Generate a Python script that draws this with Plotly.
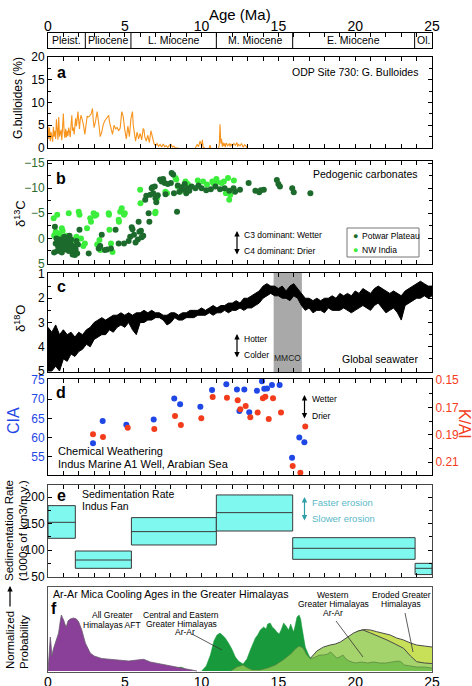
import plotly.graph_objects as go

# ---------------- DATA ----------------
epoch_names = ["Pleist.", "Pliocene", "L. Miocene", "M. Miocene", "E. Miocene", "Ol."]
epoch_start = [0.0, 2.43, 5.40, 10.96, 15.93, 23.87]
epoch_end = [2.43, 5.40, 10.96, 15.93, 23.87, 25.0]

# (a) G. bulloides (%)
bul_age = [0.0, 0.05, 0.1, 0.15, 0.2, 0.25, 0.3, 0.35, 0.4, 0.45, 0.5, 0.55, 0.6, 0.65, 0.7, 0.75, 0.8, 0.85,
           0.9, 0.95, 1.0, 1.05, 1.1, 1.15, 1.2, 1.25, 1.3, 1.35, 1.4, 1.45, 1.5, 1.55, 1.6, 1.65, 1.7, 1.75,
           1.8, 1.85, 1.9, 1.95, 2.0, 2.05, 2.1, 2.15, 2.2, 2.3, 2.4, 2.5, 2.55, 2.6, 2.7, 2.8, 2.9, 2.95,
           3.0, 3.1, 3.2, 3.3, 3.4, 3.5, 3.6, 3.7, 3.8, 3.9, 3.95, 4.0, 4.1, 4.2, 4.3, 4.4, 4.5, 4.6, 4.7,
           4.8, 4.85, 4.9, 5.0, 5.1, 5.2, 5.3, 5.4, 5.5, 5.55, 5.6, 5.7, 5.8, 5.9, 6.0, 6.1, 6.2, 6.25, 6.3,
           6.4, 6.5, 6.6, 6.7, 6.8, 6.9, 7.0, 7.1, 7.2, 7.3, 7.4, 7.5, 7.6, 7.7, 7.8, 7.9, 8.0, 8.1, 8.2,
           8.3, 8.5, None,
           9.6, 9.7, 9.8, 9.9, 10.0, 10.05, 10.1, 10.2, None,
           10.5, 10.55, 10.6, None,
           11.1, 11.15, 11.2, 11.25, 11.3, 11.35, 11.4, 11.45, 11.5, 11.55, 11.6, 11.7, 11.8, 11.85, 11.9,
           12.0, 12.1, 12.2, 12.3, 12.35, 12.4, 12.5, 12.6, 12.7, 12.8, 12.9, 12.95]
bul_pct = [4.8, 2.0, 4.5, 1.5, 3.5, 2.8, 1.4, 4.6, 2.5, 3.8, 2.0, 6.3, 3.0, 1.8, 6.8, 2.5, 3.2, 4.0,
           1.7, 5.5, 7.6, 3.5, 2.2, 4.2, 2.4, 3.8, 2.6, 4.5, 3.2, 2.4, 5.0, 7.2, 3.8, 4.5, 3.0, 5.5,
           6.5, 4.8, 7.0, 8.0, 6.0, 4.2, 6.3, 7.2, 6.6, 5.2, 3.0, 5.8, 7.0, 6.8, 7.0, 7.4, 8.7, 6.0,
           4.5, 6.0, 8.0, 5.5, 2.5, 3.5, 5.2, 6.0, 6.6, 7.0, 7.2, 5.8, 4.2, 3.0, 5.0, 4.2, 4.5, 3.8, 4.4,
           8.0, 7.5, 6.8, 4.0, 2.0, 4.8, 2.5, 6.5, 8.0, 5.0, 3.5, 1.5, 3.5, 2.0, 3.2, 1.8, 4.3, 4.0, 2.5,
           1.5, 2.8, 1.2, 3.8, 2.5, 1.0, 0.5, 1.0, 0.4, 0.8, 0.2, 0.9, 0.3, 0.5, 0.1, 0.6, 0.8, 0.2, 0.4,
           0.0, 0.0, None,
           0.0, 0.8, 0.3, 1.5, 0.5, 1.8, 0.2, 0.0, None,
           0.0, 0.6, 0.0, None,
           0.0, 0.5, 5.2, 1.0, 2.0, 0.3, 1.2, 0.4, 1.0, 0.2, 1.1, 0.5, 1.0, 0.3, 0.9,
           0.4, 1.0, 0.6, 1.2, 0.3, 0.8, 0.5, 1.0, 0.2, 0.7, 0.4, 0.0]

# (b) pedogenic carbonate d13C
pot_age = [0.40, 0.45, 0.50, 0.55, 0.60, 0.65, 0.70, 0.75, 0.80, 0.85, 0.90, 0.95, 1.00, 1.05, 1.10, 1.15,
           1.20, 1.25, 1.30, 1.35, 1.40, 1.45, 1.50, 1.55, 1.60, 1.65, 1.70, 1.75, 1.80, 1.85, 1.90, 1.95,
           2.05, 2.65, 3.30, 3.40, 3.50, 3.70, 3.85, 4.10, 4.40, 4.60, 4.95, 5.25, 5.35, 5.45, 5.50, 5.60,
           5.70, 5.85, 5.90, 5.95, 6.05, 6.10, 6.20, 6.33, 6.40, 6.55, 6.60, 6.66, 6.75, 6.80, 6.85, 6.95,
           7.00, 7.05, 7.15, 7.30, 7.40, 7.50, 7.60, 7.65, 7.80, 8.00, 8.05, 8.15, 8.20, 8.40, 8.45, 8.55,
           8.70, 8.80, 8.90, 9.00, 9.10, 9.20, 9.35, 9.60, 9.80, 10.00, 10.30, 10.60, 10.90, 11.20, 11.50,
           11.80, 12.08, 12.18, 12.50, 13.06, 13.50, 13.75, 13.85, 14.05, 14.90, 15.00, 15.10, 15.90, 16.00,
           17.08]
pot_d13c = [2.8, -2.3, 1.0, 0.0, 2.5, 1.5, 0.8, 2.0, 0.2, 1.2, 2.8, 1.8, 0.5, -0.3, 1.0, 2.2,
            0.3, 1.5, 0.8, 2.5, -0.5, 1.0, 0.2, 2.0, 3.2, 1.5, 2.7, 3.3, 2.2, 0.5, 3.0, 1.2,
            -1.7, 3.0, 2.0, 1.5, -0.7, 2.3, 2.2, 2.0, -1.7, 1.0, 1.0, 0.5, -0.3, -2.2, -1.8, -0.7,
            0.8, 0.2, -3.3, -1.3, -1.5, -0.2, -0.5, -7.7, -8.5, -5.0, -3.3, -8.7, -10.0, -10.2, -9.0, -10.3,
            -8.0, -7.2, -8.6, -11.7, -11.3, -11.8, -11.0, -8.8, -10.8, -11.0, -13.0, -12.7, -9.0, -5.3, -10.5, -9.3,
            -10.2, -9.7, -10.8, -9.0, -10.0, -9.5, -10.3, -10.0, -10.5, -10.0, -9.6, -9.8, -10.3, -9.8, -10.0,
            -9.5, -10.0, -9.3, -9.7, -11.0, -9.5, -9.2, -9.6, -9.7, -11.6, -10.8, -10.3, -10.0, -9.2,
            -9.0]
nw_age = [0.37, 0.40, 0.45, 0.50, 0.60, 0.65, 0.75, 0.80, 0.90, 0.95, 1.00, 1.10, 1.20, 1.35, 1.45, 1.55,
          1.67, 1.75, 1.85, 2.00, 2.05, 2.15, 2.30, 2.40, 2.54, 2.75, 2.80, 2.97, 3.05, 3.15, 3.20, 3.35,
          3.40, 3.95, 3.97, 4.00, 4.10, 4.20, 4.60, 4.62, 4.70, 4.80, 4.95, 5.00, 6.00, 6.02, 6.98, 7.00,
          7.10, 7.64, 7.75, 8.30, 8.35, 8.45, 8.60, 8.95, 9.10, 9.75, 10.10, 10.35, 10.70, 10.75, 10.96,
          11.00, 11.30, 11.45, 11.58, 11.72, 11.80, 11.87, 12.10]
nw_d13c = [-4.0, -0.5, -0.7, -1.3, -4.7, -1.0, -0.7, 1.5, -2.0, -1.5, 0.3, 2.0, -0.5, -5.0, 0.5, 2.3,
           0.3, 1.8, -0.3, -5.3, -4.7, 0.0, 1.5, 1.0, -2.0, -4.0, -3.3, -5.0, -4.5, -4.7, 1.2, 0.3,
           2.3, -5.0, -4.7, -1.7, 1.0, 2.7, -3.7, -3.3, -5.3, -6.0, -4.7, -5.0, -9.7, -7.0, -5.0, -5.3,
           -8.0, -9.3, -9.0, -12.0, -11.7, -10.3, -9.3, -11.3, -10.8, -11.5, -11.3, -10.7, -11.3, -11.0, -11.8,
           -11.2, -11.0, -11.3, -9.0, -12.0, -7.7, -8.7, -11.5]

# (c) global seawater d18O envelope
o18_age = [0.0, 0.25, 0.5, 0.75, 1.0, 1.25, 1.5, 1.75, 2.0, 2.25, 2.5, 2.75, 3.0, 3.25, 3.5, 3.75, 4.0,
           4.25, 4.5, 4.75, 5.0, 5.25, 5.5, 5.75, 6.0, 6.25, 6.5, 6.75, 7.0, 7.25, 7.5, 7.75, 8.0, 8.25,
           8.5, 8.75, 9.0, 9.25, 9.5, 9.75, 10.0, 10.25, 10.5, 10.75, 11.0, 11.25, 11.5, 11.75, 12.0, 12.25,
           12.5, 12.75, 13.0, 13.25, 13.5, 13.75, 14.0, 14.25, 14.5, 14.75, 15.0, 15.25, 15.5, 15.75, 16.0,
           16.25, 16.5, 16.75, 17.0, 17.25, 17.5, 17.75, 18.0, 18.25, 18.5, 18.75, 19.0, 19.25, 19.5, 19.75,
           20.0, 20.25, 20.5, 20.75, 21.0, 21.25, 21.5, 21.75, 22.0, 22.25, 22.5, 22.75, 23.0, 23.25, 23.5,
           23.75, 24.0, 24.25, 24.5, 24.75, 25.0]
o18_min = [3.2, 3.4, 3.1, 3.5, 3.3, 3.5, 3.4, 3.6, 3.4, 3.5,
           3.3, 3.2, 3.0, 2.9, 2.8, 2.9, 2.8, 2.7, 2.7, 2.6,
           2.7, 2.6, 2.7, 2.6, 2.6, 2.5, 2.6, 2.5, 2.6, 2.6,
           2.7, 2.7, 2.6, 2.6, 2.7, 2.6, 2.6, 2.5, 2.5, 2.5,
           2.4, 2.5, 2.4, 2.3, 2.4, 2.3, 2.3, 2.2, 2.2, 2.1,
           2.2, 2.0, 2.0, 1.9, 1.8, 1.7, 1.5, 1.4, 1.5, 1.5,
           1.6, 1.5, 1.7, 1.5, 1.4, 1.6, 1.8, 2.0, 2.0, 2.1,
           2.0, 2.1, 2.0, 2.0, 1.9, 2.0, 1.8, 1.9, 1.8, 1.9,
           1.7, 1.8, 1.6, 1.7, 1.8, 1.6, 1.5, 1.6, 1.7, 1.8,
           1.7, 1.8, 1.9, 1.7, 1.6, 1.5, 1.4, 1.3, 1.4, 1.5,
           1.5]
o18_max = [5.0, 5.0, 4.8, 5.0, 4.5, 4.6, 4.3, 4.4, 4.2, 4.1,
           3.9, 4.0, 3.7, 3.6, 3.5, 3.5, 3.3, 3.4, 3.2, 3.1,
           3.2, 3.0, 3.3, 3.5, 3.0, 3.0, 2.9, 2.9, 2.8, 2.8,
           2.9, 3.1, 3.0, 2.8, 2.9, 2.9, 2.8, 2.8, 2.8, 2.7,
           2.7, 2.7, 2.6, 2.7, 2.6, 2.6, 2.5, 2.6, 2.5, 2.5,
           2.4, 2.5, 2.4, 2.4, 2.3, 2.2, 2.0, 1.9, 1.8, 1.9,
           1.9, 2.0, 2.0, 2.1, 1.9, 2.0, 2.3, 2.5, 2.4, 2.6,
           2.5, 2.5, 2.6, 2.4, 2.5, 2.5, 2.5, 2.4, 2.5, 2.6,
           2.5, 2.4, 2.3, 2.4, 2.5, 2.3, 2.2, 2.4, 2.6, 2.5,
           2.4, 2.6, 2.9, 2.3, 2.2, 2.1, 2.0, 2.0, 1.9, 2.0,
           1.9]
mmco_start, mmco_end = 14.69, 16.53

# (d) chemical weathering
cia_age = [2.93, 3.56, 5.10, 6.88, 8.22, 8.60, 9.92, 10.68, 11.61, 12.30, 12.78, 12.46, 13.10, 13.60,
           13.93, 14.08, 14.26, 14.58, 15.08, 15.89, 16.36, 16.69]
cia_val = [58.5, 64.3, 63.3, 64.7, 70.2, 68.7, 68.0, 72.4, 73.9, 72.5, 72.5, 66.9, 66.6, 72.2,
           74.7, 72.7, 72.8, 73.7, 73.7, 54.7, 60.0, 58.8]
kal_age = [2.93, 3.58, 5.19, 6.92, 8.27, 8.65, 9.98, 10.72, 11.65, 12.35, 12.52, 12.87, 13.17, 13.65,
           13.99, 14.15, 14.37, 14.65, 15.17, 15.93, 16.43, 16.75]
kal_val = [0.1896, 0.1916, 0.1848, 0.1857, 0.1762, 0.1828, 0.1779, 0.1624, 0.1629, 0.1648, 0.1714, 0.1690,
           0.1772, 0.1738, 0.1634, 0.1622, 0.1784, 0.1634, 0.1738, 0.2127, 0.2176, 0.1840]

# (e) Indus Fan sedimentation rate
sed_start = [0.0, 1.78, 5.43, 10.96, 15.93, 23.90]
sed_end = [1.78, 5.43, 10.96, 15.93, 23.90, 25.0]
sed_low = [122.5, 65.8, 109.9, 136.3, 82.8, 54.0]
sed_mid = [152.7, 81.5, 135.1, 171.0, 103.6, 65.8]
sed_high = [184.2, 98.5, 161.6, 204.4, 123.7, 75.2]

# (f) cooling-age probability curves (arbitrary units)
aft_age = [0.0, 0.1, 0.15, 0.2, 0.25, 0.35, 0.5, 0.69, 0.8, 0.87, 0.95, 1.02, 1.1, 1.19, 1.3, 1.45, 1.67,
           1.85, 2.0, 2.2, 2.43, 2.6, 2.75, 3.0, 3.19, 3.5, 3.84, 4.2, 4.7, 5.25, 5.8, 6.23, 6.66, 7.31,
           7.96, 8.61, 9.26, 9.7]
aft_prob = [0, 20, 34, 26, 15, 22, 30, 38, 50, 56, 53, 51, 47, 44, 50, 52, 53,
            52, 49, 41, 28, 22, 18, 15, 14, 12.5, 12, 11.5, 11, 10, 11, 11.7, 9, 7,
            5, 2.7, 1, 0]
bump_age = [8.25, 8.4, 8.6, 8.8, 9.0]
bump_prob = [0, 3, 4, 3.5, 0]
ce_age = [10.0, 10.3, 10.57, 10.8, 11.0, 11.2, 11.35, 11.54, 11.75, 11.97, 12.2, 12.4, 12.7, 12.95, 13.17,
          13.35, 13.5, 13.65, 13.82, 14.04, 14.2, 14.3, 14.47, 14.6, 14.75, 14.9, 15.05, 15.2, 15.34, 15.5,
          15.66, 15.8, 15.99, 16.1, 16.21, 16.35, 16.45, 16.53, 16.65, 16.75, 16.97, 17.1, 17.3]
ce_prob = [0, 5, 16, 30, 36, 38, 36, 33, 28, 22, 14, 10, 7, 12, 21,
           28, 33, 36, 41, 44, 42, 47, 48, 44, 42, 39, 37, 42, 48, 45,
           41, 47, 39, 46, 54, 56, 52, 44, 32, 24, 16, 13, 0]
wgh_age = [16.8, 17.1, 17.5, 17.94, 18.37, 18.7, 19.03, 19.47, 19.9, 20.2, 20.5, 21.0, 21.5, 22.07, 22.6,
           23.15, 23.6, 24.0, 24.5, 24.9, 25.0]
wgh_prob = [12, 13, 20, 24, 26, 27, 29, 34, 38, 40, 41, 38, 35, 31, 27,
            22.7, 15, 9.3, 8, 7.7, 7.5]
low_age = [11.9, 12.3, 12.7, 13.0, 13.3, 13.8, 14.3, 14.8, 15.3, 15.8, 16.1, 16.35, 16.6, 16.85, 17.1,
           17.4, 17.7, 17.94, 18.2, 18.4, 18.6, 18.8, 19.0, 19.2, 19.4, 19.6, 19.8, 20.0, 20.4, 20.8, 21.2,
           21.6, 22.0, 22.4, 22.8, 23.0, 23.2, 23.6, 24.0, 24.5, 25.0]
low_prob = [0, 4, 6, 3, 1, 1, 3, 6, 11, 17, 22, 25, 23, 16, 12,
            14, 16, 16, 17, 19, 16, 13, 14, 16, 12, 10, 9, 8, 9, 8, 9,
            8, 8, 9, 10, 9, 6, 5, 4, 4, 3]
ero_age = [20.0, 20.2, 20.55, 21.0, 21.4, 22.0, 22.28, 22.7, 23.15, 23.6, 24.0, 24.5, 24.9, 25.0]
ero_prob = [38, 40, 41.5, 41, 39.3, 37, 36, 33, 31, 28, 26, 25, 24.3, 24]

# ---------------- LAYOUT HELPERS ----------------
W, H = 472, 686
ML, MR = 48, 40
PW = W - ML - MR
FONT = "Liberation Sans, Arial, Helvetica, sans-serif"


def xp(px):
    return (px - ML) / PW


def yp(py):
    return 1 - py / H


def dom(top, bot):
    return [1 - bot / H, 1 - top / H]


fig = go.Figure()

# (a)
fig.add_trace(go.Scatter(x=bul_age, y=bul_pct, mode="lines", line=dict(color="#f7941d", width=1.1),
                         connectgaps=False, xaxis="x2", yaxis="y2", hoverinfo="skip"))
# (b)
fig.add_trace(go.Scatter(x=nw_age, y=nw_d13c, mode="markers", name="NW India",
                         marker=dict(color="#3cee3c", size=6), xaxis="x3", yaxis="y3", hoverinfo="skip"))
fig.add_trace(go.Scatter(x=pot_age, y=pot_d13c, mode="markers", name="Potwar Plateau",
                         marker=dict(color="#1d6b2c", size=6), xaxis="x3", yaxis="y3", hoverinfo="skip"))
# (c)
fig.add_trace(go.Scatter(x=o18_age, y=o18_min, mode="lines", line=dict(color="black", width=1),
                         xaxis="x4", yaxis="y4", hoverinfo="skip"))
fig.add_trace(go.Scatter(x=o18_age, y=o18_max, mode="lines", line=dict(color="black", width=1),
                         fill="tonexty", fillcolor="black", xaxis="x4", yaxis="y4", hoverinfo="skip"))
# (d)
fig.add_trace(go.Scatter(x=cia_age, y=cia_val, mode="markers", marker=dict(color="#1f47e6", size=6),
                         xaxis="x5", yaxis="y5", hoverinfo="skip"))
fig.add_trace(go.Scatter(x=kal_age, y=kal_val, mode="markers", marker=dict(color="#f33c1c", size=6),
                         xaxis="x5", yaxis="y8", hoverinfo="skip"))
# (e)
for s, e, lo, hi in zip(sed_start, sed_end, sed_low, sed_high):
    fig.add_trace(go.Scatter(x=[s, e, e, s, s], y=[lo, lo, hi, hi, lo], mode="lines", fill="toself",
                             fillcolor="#7ff8f0", line=dict(color="#3a3a3a", width=1),
                             xaxis="x6", yaxis="y6", hoverinfo="skip"))
mx, my = [], []
for s, e, m in zip(sed_start, sed_end, sed_mid):
    mx += [s, e, None]
    my += [m, m, None]
fig.add_trace(go.Scatter(x=mx, y=my, mode="lines", line=dict(color="#3a3a3a", width=1),
                         xaxis="x6", yaxis="y6", hoverinfo="skip"))
# (f)
fig.add_trace(go.Scatter(x=ero_age, y=ero_prob, mode="lines", fill="tozeroy", fillcolor="#c8df58",
                         line=dict(color="#4a4a4a", width=1), xaxis="x7", yaxis="y7", hoverinfo="skip"))
fig.add_trace(go.Scatter(x=wgh_age, y=wgh_prob, mode="lines", fill="tozeroy", fillcolor="#a6d46c",
                         line=dict(color="#4a4a4a", width=1), xaxis="x7", yaxis="y7", hoverinfo="skip"))
fig.add_trace(go.Scatter(x=ce_age, y=ce_prob, mode="lines", fill="tozeroy", fillcolor="#189a3c",
                         line=dict(color="#189a3c", width=0.5), xaxis="x7", yaxis="y7", hoverinfo="skip"))
fig.add_trace(go.Scatter(x=low_age, y=low_prob, mode="lines", fill="tozeroy", fillcolor="#78c04e",
                         line=dict(color="#55803f", width=0.7), xaxis="x7", yaxis="y7", hoverinfo="skip"))
fig.add_trace(go.Scatter(x=bump_age, y=bump_prob, mode="lines", fill="tozeroy", fillcolor="#3cae4a",
                         line=dict(color="#3cae4a", width=0.5), xaxis="x7", yaxis="y7", hoverinfo="skip"))
fig.add_trace(go.Scatter(x=aft_age, y=aft_prob, mode="lines", fill="tozeroy", fillcolor="#8a3f98",
                         line=dict(color="#6a5a70", width=0.8), xaxis="x7", yaxis="y7", hoverinfo="skip"))

# ---------------- AXES ----------------


def xax(anchor, labels=False, ticks=True):
    d = dict(anchor=anchor, domain=[0, 1], range=[0, 25], showgrid=False, zeroline=False,
             showline=True, linecolor="black", linewidth=1,
             mirror="ticks" if ticks else True, ticks="inside" if ticks else "",
             ticklen=4, tickwidth=1, tickcolor="black", tick0=0, dtick=5,
             showticklabels=labels, tickfont=dict(family=FONT, size=14, color="black"))
    if ticks:
        d["minor"] = dict(dtick=1, ticks="inside", ticklen=4, tickcolor="black", showgrid=False)
    return d


def yax(anchor, domain, rng, dtick=None, minor=None, color="black", tickvals=None, lc="black",
        mirror="ticks", side="left", labels=True, ticks=True, tickformat=None):
    d = dict(anchor=anchor, domain=domain, range=rng, showgrid=False, zeroline=False,
             showline=True, linecolor=lc, linewidth=1, mirror=mirror, side=side,
             ticks="inside" if ticks else "", ticklen=4, tickwidth=1, tickcolor="black",
             showticklabels=labels, tickfont=dict(family=FONT, size=12, color=color))
    if dtick is not None:
        d["dtick"] = dtick
        d["tick0"] = 0
    if tickvals is not None:
        d["tickvals"] = tickvals
    if minor is not None:
        d["minor"] = dict(dtick=minor, ticks="inside", ticklen=3, tickcolor="black", showgrid=False)
    if tickformat:
        d["tickformat"] = tickformat
    return d


top_axis = xax("y", labels=True)
top_axis.update(side="top", mirror=True, ticklabelstandoff=-5)

bottom_axis = xax("y7", labels=True, ticks=False)
bottom_axis.update(linecolor="#555", ticklabelstandoff=-3)

layout_axes = dict(
    xaxis=top_axis,
    yaxis=dict(anchor="x", domain=dom(33, 48), range=[0, 1], showgrid=False, zeroline=False,
               showline=True, mirror=True, linecolor="black", ticks="", showticklabels=False),
    xaxis2=xax("y2"),
    yaxis2=yax("x2", dom(57, 148), [0, 20], dtick=5, minor=2.5),
    xaxis3=xax("y3"),
    yaxis3=yax("x3", dom(161, 264), [5.1, -15.4], dtick=5, minor=2.5, color="#2d6b2d"),
    xaxis4=xax("y4"),
    yaxis4=yax("x4", dom(273, 372), [5.04, 0.96], dtick=1, minor=0.5),
    xaxis5=xax("y5"),
    yaxis5=yax("x5", dom(379, 475), [50.23, 75.26], tickvals=[55, 60, 65, 70, 75], color="#1f47e6",
               mirror=False),
    yaxis8=dict(anchor="x5", overlaying="y5", side="right", range=[0.2193, 0.1493],
                tickvals=[0.15, 0.17, 0.19, 0.21], tickformat=".2f", showgrid=False, zeroline=False,
                showline=True, linecolor="black", linewidth=1, ticks="inside", ticklen=4,
                tickcolor="black", tickfont=dict(family=FONT, size=12, color="#f33c1c"),
                minor=dict(dtick=0.01, ticks="inside", ticklen=3, tickcolor="black", showgrid=False)),
    xaxis6=dict(xax("y6"), linecolor="#444"),
    yaxis6=yax("x6", dom(485, 577), [49.4, 223.2], dtick=50, minor=25, lc="#444"),
    xaxis7=bottom_axis,
    yaxis7=yax("x7", dom(587, 672), [-1, 84], labels=False, ticks=False, mirror=True, lc="#555"),
)

# ---------------- SHAPES ----------------
shapes = []
shapes.append(dict(type="rect", xref="x4", yref="y4 domain", x0=mmco_start, x1=mmco_end, y0=0, y1=1,
                   fillcolor="#a9a9a9", line=dict(width=0), layer="below"))
for b in epoch_start[1:]:
    shapes.append(dict(type="line", xref="x", yref="y domain", x0=b, x1=b, y0=0, y1=1,
                       line=dict(color="black", width=1)))
# legend box (b)
shapes.append(dict(type="rect", xref="paper", yref="paper", x0=xp(347), x1=xp(419), y0=yp(257),
                   y1=yp(228), line=dict(color="#777", width=1), fillcolor="white"))
# leader lines (f)
for (x0, y0, x1, y1) in [(192, 634, 222, 650), (336, 621, 363, 657), (405, 613, 413, 652)]:
    shapes.append(dict(type="line", xref="paper", yref="paper", x0=xp(x0), y0=yp(y0), x1=xp(x1),
                       y1=yp(y1), line=dict(color="#333", width=0.8)))

# ---------------- ANNOTATIONS ----------------
ann = []


def txt(px, py, s, size=11, color="black", xanchor="left", angle=0):
    ann.append(dict(x=xp(px), y=yp(py), xref="paper", yref="paper", text=s, showarrow=False,
                    xanchor=xanchor, yanchor="middle", textangle=angle,
                    font=dict(family=FONT, size=size, color=color)))


def arrow(px, ytop, ybot, color="black", both=True):
    ann.append(dict(x=xp(px), y=yp(ytop), xref="paper", yref="paper", ax=0, ay=ybot - ytop,
                    axref="pixel", ayref="pixel", text="", showarrow=True, arrowhead=2,
                    arrowsize=0.9, arrowwidth=1.2, arrowcolor=color,
                    arrowside="end+start" if both else "end", standoff=0, startstandoff=0))


txt(240, 15, "Age (Ma)", size=15, xanchor="center")
for name, s, e in zip(epoch_names, epoch_start, epoch_end):
    ann.append(dict(x=(s + e) / 2, y=0.5, xref="x", yref="y", text=name, showarrow=False,
                    xanchor="center", yanchor="middle",
                    font=dict(family=FONT, size=10.5, color="black")))

# panel letters
for letter, px, py in [("a", 61, 72), ("b", 61, 178), ("c", 61, 286), ("d", 61, 392), ("e", 61, 495),
                       ("f", 54, 608)]:
    txt(px, py, "<b>%s</b>" % letter, size=16, xanchor="center")

# (a)
txt(420, 72, "ODP Site 730: G. Bulloides", size=10.5, xanchor="right")
txt(18, 98, "G.bulloides (%)", size=12, xanchor="center", angle=-90)
# (b)
txt(420, 174, "Pedogenic carbonates", size=10.5, xanchor="right")
txt(20, 214, "δ<sup>13</sup>C", size=13, xanchor="center", angle=-90)
txt(242, 235, "C3 dominant: Wetter", size=8.5)
txt(242, 251, "C4 dominant: Drier", size=8.5)
arrow(237, 231, 256)
txt(355, 236, "●", size=9, color="#1d6b2c", xanchor="center")
txt(355, 249.5, "●", size=9, color="#3cee3c", xanchor="center")
txt(360, 236, "Potwar Plateau", size=8.5)
txt(360, 249.5, "NW India", size=8.5)
# (c)
txt(20, 318, "δ<sup>18</sup>O", size=13, xanchor="center", angle=-90)
txt(242, 339, "Hotter", size=8.5)
txt(242, 355, "Colder", size=8.5)
arrow(237, 334, 359)
ann.append(dict(x=(mmco_start + mmco_end) / 2, y=yp(357.5), xref="x4", yref="paper", text="MMCO",
                showarrow=False, xanchor="center", yanchor="middle",
                font=dict(family=FONT, size=8.5, color="#222")))
txt(420, 359, "Global seawater", size=10.5, xanchor="right")
# (d)
txt(14, 421, "CIA", size=16, color="#1f47e6", xanchor="center", angle=-90)
txt(465, 423, "K/Al", size=16, color="#f33c1c", xanchor="center", angle=90)
txt(310, 399, "Wetter", size=8.5)
txt(310, 416, "Drier", size=8.5)
arrow(304.5, 395, 420)
txt(56, 450.5, "Chemical Weathering", size=11)
txt(56, 463.5, "Indus Marine A1 Well, Arabian Sea", size=11)
# (e)
txt(80, 494, "Sedimentation Rate", size=10.5)
txt(80, 506, "Indus Fan", size=10.5)
txt(310, 502, "Faster erosion", size=9.5, color="#5ab8c8")
txt(310, 518, "Slower erosion", size=9.5, color="#5ab8c8")
arrow(304.5, 497, 522, color="#2f9ea6")
txt(9, 531, "Sedimentation Rate", size=11.5, xanchor="center", angle=-90)
txt(23, 531, "(1000s of km3/m.y.)", size=11.5, xanchor="center", angle=-90)
# (f)
txt(51, 594, "Ar-Ar Mica Cooling Ages in the Greater Himalayas", size=10.6)
txt(112, 615, "All Greater", size=8.5, xanchor="center")
txt(112, 624.5, "Himalayas AFT", size=8.5, xanchor="center")
txt(181, 614.5, "Central and Eastern", size=8.5, xanchor="center")
txt(181, 623.5, "Greater Himalayas", size=8.5, xanchor="center")
txt(185, 632, "Ar-Ar", size=8.5, xanchor="center")
txt(333, 595, "Western", size=8.5, xanchor="center")
txt(333, 604, "Greater Himalayas", size=8.5, xanchor="center")
txt(333, 613, "Ar-Ar", size=8.5, xanchor="center")
txt(401, 595, "Eroded Greater", size=8.5, xanchor="center")
txt(401, 603.5, "Himalayas", size=8.5, xanchor="center")
txt(10, 640, "Normalized", size=11.5, xanchor="center", angle=-90)
txt(24, 642, "Probability", size=11.5, xanchor="center", angle=-90)
arrow(10, 586, 608, both=False)

fig.update_layout(
    width=W, height=H, autosize=False, template="none",
    margin=dict(l=ML, r=MR, t=0, b=0, pad=0),
    plot_bgcolor="white", paper_bgcolor="white", showlegend=False,
    font=dict(family=FONT, size=12, color="black"),
    shapes=shapes, annotations=ann, **layout_axes,
)

fig.write_html("out.html", config={"displayModeBar": False},
               post_script="document.body.style.margin='0';document.body.style.padding='0';")
